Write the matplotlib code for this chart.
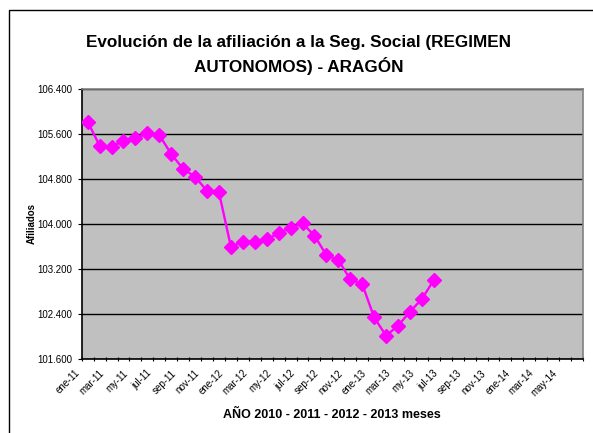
import matplotlib
matplotlib.use("Agg")
import matplotlib.pyplot as plt
import matplotlib.transforms as mtransforms
from matplotlib.patches import Rectangle
from matplotlib.ticker import FuncFormatter, FixedLocator

plt.rcParams['font.family'] = ['Liberation Sans', 'DejaVu Sans']

# Category axis (monthly, ene-11 .. jun-14)
months = ['ene', 'feb', 'mar', 'my', 'may', 'jun', 'jul', 'ago', 'sep', 'oct', 'nov', 'dic']
categories = []
for yr in ['11', '12', '13', '14']:
    for m in months:
        categories.append(f"{m}-{yr}")
categories = categories[:42]
tick_labels = ['ene-11', 'mar-11', 'my-11', 'jul-11', 'sep-11', 'nov-11',
               'ene-12', 'mar-12', 'my-12', 'jul-12', 'sep-12', 'nov-12',
               'ene-13', 'mar-13', 'my-13', 'jul-13', 'sep-13', 'nov-13',
               'ene-14', 'mar-14', 'may-14']

afiliados = [105819, 105392, 105374, 105481, 105523, 105612, 105582, 105244,
             104978, 104841, 104587, 104563, 103596, 103685, 103685, 103728,
             103834, 103934, 104012, 103792, 103449, 103360, 103016, 102933,
             102341, 102014, 102192, 102440, 102666, 103004]

y_ticks = [101600, 102400, 103200, 104000, 104800, 105600, 106400]

title = "Evolución de la afiliación a la Seg. Social (REGIMEN\nAUTONOMOS) - ARAGÓN"
xlabel = "AÑO 2010 - 2011 - 2012 - 2013 meses"
ylabel = "Afiliados"

fig = plt.figure(figsize=(5.93, 4.33), dpi=100)
ax = fig.add_axes([81.7/593, (433-359)/433, (583-81.7)/593, (359-89)/433])
ax.set_facecolor('#C0C0C0')

x = list(range(len(afiliados)))
ax.plot(x, afiliados, color='#FF00FF', linewidth=1.7, marker='D',
        markersize=7.3, markerfacecolor='#FF00FF', markeredgecolor='#FF00FF', zorder=3)

ax.set_xlim(-0.5, len(categories) - 0.5)
ax.set_ylim(y_ticks[0], y_ticks[-1])
ax.set_yticks(y_ticks)
ax.yaxis.set_major_formatter(FuncFormatter(lambda v, p: f"{int(v):,}".replace(',', '.')))
ax.grid(axis='y', color='black', linewidth=1.0)
ax.set_axisbelow(True)

tick_pos = list(range(0, 2 * len(tick_labels), 2))
ax.set_xticks(tick_pos)
ax.set_xticklabels(tick_labels)
ax.xaxis.set_minor_locator(FixedLocator([i - 0.5 for i in range(len(categories) + 1)]))
ax.tick_params(axis='x', which='major', length=0, pad=6.5, labelsize=7)
ax.tick_params(axis='x', which='minor', length=3.5, width=0.8, direction='inout')
ax.tick_params(axis='y', length=3, width=0.8, pad=4, labelsize=7)

offset = mtransforms.ScaledTranslation(-12.5/100, 0, fig.dpi_scale_trans)
for lbl in ax.get_xticklabels():
    lbl.set_rotation(45)
    lbl.set_ha('right')
    lbl.set_va('top')
    lbl.set_rotation_mode('anchor')
    lbl.set_transform(lbl.get_transform() + offset)

for s in ['left', 'bottom']:
    ax.spines[s].set_color('black')
    ax.spines[s].set_linewidth(1.2)
for s in ['top', 'right']:
    ax.spines[s].set_color('#808080')
    ax.spines[s].set_linewidth(1.2)

ax.set_xlabel(xlabel, fontsize=9, fontweight='bold')
ax.xaxis.set_label_coords(0.5, -0.207)
ax.xaxis.label.set_va('center')
ax.set_ylabel(ylabel, fontsize=7, fontweight='bold')
ax.yaxis.set_label_coords(-0.1, 0.5)
ax.yaxis.label.set_va('center')

fig.text(299/593, 1 - 55/433, title, ha='center', va='center', fontsize=12.3,
         fontweight='bold', linespacing=1.45)

fig.patches.append(Rectangle((9/593, -0.1), 1.0, 1 - 10/433 + 0.1,
                             transform=fig.transFigure, fill=False,
                             edgecolor='black', linewidth=1.0))

fig.savefig('out.png', dpi=100)
